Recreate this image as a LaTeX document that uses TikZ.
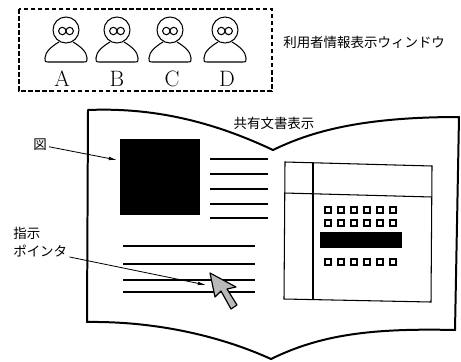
\documentclass[tikz,border=0pt]{standalone}
\usepackage{fontspec}
\newfontfamily\jp{Noto Sans CJK JP}
\usetikzlibrary{arrows.meta,positioning}

\begin{document}
\begin{tikzpicture}[x=0.03cm,y=-0.03cm,line width=0.9pt,
	jtext/.style={font=\jp\fontsize{11.5}{12}\selectfont,inner sep=1.5pt},
	letter/.style={font=\fontsize{19}{19}\selectfont,inner sep=0pt},
	leader/.style={-{Latex[length=7pt,width=3pt]},line width=0.7pt},
	page/.style={line width=1.7pt,line join=round},
	key/.style={line width=1.8pt}]
	\useasboundingbox (0,0) rectangle (461,361);
	
	% users window
	\draw[dash pattern=on 4pt off 2pt] (19,9) rectangle (272,91);
	\foreach \x/\lx/\n in {66/62/A,117/117/B,170/172/C,225/227/D}
	{
		\draw (\x,30) circle (13);
		\draw (\x-3.7,31) circle (3.7) (\x+3.7,31) circle (3.7);
		\draw (\x-7,42) .. controls (\x-14,46) and (\x-21,52) .. (\x-21,58)
			.. controls (\x-21,62) .. (\x-17,62) -- (\x+17,62)
			.. controls (\x+21,62) .. (\x+21,58)
			.. controls (\x+21,52) and (\x+14,46) .. (\x+7,42);
		\node[letter] (user\n) at (\lx,79) {\n};
	}
	\node[jtext,anchor=west] (userwin) at (281,42) {利用者情報表示ウィンドウ};
	
	% shared document
	\draw[page] (88,110) .. controls (160,107) and (220,125) .. (273,150)
		.. controls (310,132) and (360,117) .. (459,117) -- (455,330)
		.. controls (370,328) and (320,335) .. (271,359)
		.. controls (225,338) and (160,321) .. (87,322) -- cycle;
	\node[jtext] (doctitle) at (274,123) {共有文書表示};
	
	% left page
	\fill (120,139) rectangle (200,215);
	\foreach \y in {159,174,189,204,218}
	\draw (210,\y) -- (268,\y);
	\foreach \y in {246,264,280,292}
	\draw (123,\y) -- (255,\y);
	\draw[fill=gray!55,line width=1pt,line join=round] (210,273) -- (215,297) -- (221,291)
		-- (231,309) -- (237,305) -- (227,289) -- (236,287) -- cycle;
	
	% right page
	\draw (285,162) -- (432,166) -- (431,302) -- (284,299) -- cycle;
	\draw (313,163) -- (313,300);
	\draw (284,193) -- (432,197);
	\foreach \y in {210,223,262}
	\foreach \x in {328,341,354,367,380,393}
	\draw[key] (\x-2.7,\y-2.7) rectangle (\x+2.7,\y+2.7);
	\fill (320,232) rectangle (402,248);
	
	% labels
	\node[jtext] (figlabel) at (40,145) {図};
	\coordinate (figtip) at (117,160);
	\draw[leader] (figlabel) -- (figtip);
	\node[jtext,anchor=west] (ptrlabel1) at (11,233) {指示};
	\node[jtext,below=1pt of ptrlabel1.south west,anchor=north west] (ptrlabel) {ポインタ};
	\coordinate (ptrtip) at (206,285);
	\draw[leader] (ptrlabel) -- (ptrtip);
\end{tikzpicture}
\end{document}
